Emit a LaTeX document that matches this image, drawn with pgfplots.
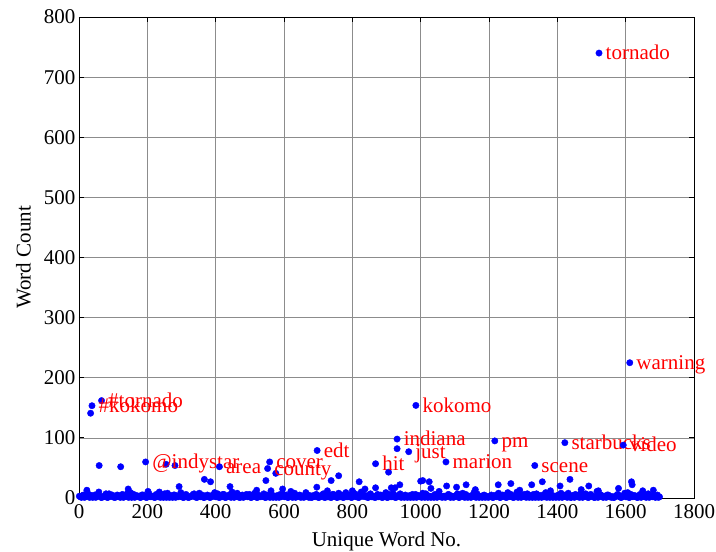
\documentclass[border=0pt]{standalone}
\usepackage{pgfplots}
\pgfplotsset{compat=1.18}
\usepackage{fontspec}
\setmainfont{Liberation Serif}
\definecolor{mblue}{RGB}{0,0,255}
\definecolor{mred}{RGB}{255,0,0}
\newcommand{\ff}{\fontsize{21}{24}\selectfont}
\begin{document}
\begin{tikzpicture}
\useasboundingbox (-79pt,-54pt) rectangle (637pt,498pt);
\begin{axis}[
  at={(0pt,0pt)}, anchor=south west,
  scale only axis, width=615pt, height=481pt,
  xmin=0, xmax=1800, ymin=0, ymax=800,
  xtick={0,200,...,1800}, ytick={0,100,...,800},
  grid=major, major grid style={black!45, line width=0.7pt},
  tick align=inside, major tick length=5pt, tick pos=both,
  axis line style={black, line width=0.9pt},
  every tick/.style={black, line width=0.8pt},
  /pgf/number format/assume math mode=true,
  /pgf/number format/set thousands separator={},
  tick label style={font=\ff},
  xticklabel style={yshift=-3pt},
  label style={font=\ff},
  xlabel={Unique Word No.}, ylabel={Word Count},
  xlabel style={at={(axis description cs:0.5,-0.1012)}, anchor=base, inner sep=0pt},
  ylabel style={at={(axis description cs:-0.078,0.5)}, anchor=south, inner sep=0pt},
  clip=false,
]
\addplot[only marks, mark=*, mark size=3.2pt, color=mblue] coordinates {
(1,3)(7,1)(13,5)(19,2)(25,8)(31,1)(37,4)(43,2)(49,1)(55,6)(61,3)(67,1)(73,2)(79,7)(85,1)(91,3)(97,5)(103,1)(109,2)(115,4)
(121,1)(127,6)(133,2)(139,3)(145,1)(151,9)(157,2)(163,1)(169,4)(175,3)(181,1)(187,5)(193,2)(199,1)(205,7)(211,2)(217,3)(223,1)(229,4)(235,6)
(241,2)(247,1)(253,3)(259,8)(265,1)(271,2)(277,5)(283,1)(289,3)(295,4)(301,2)(307,1)(313,6)(319,1)(325,2)(331,3)(337,7)(343,1)(349,4)(355,2)
(361,5)(367,1)(373,2)(379,3)(385,1)(391,4)(397,9)(403,2)(409,1)(415,3)(421,6)(427,1)(433,2)(439,5)(445,1)(451,3)(457,2)(463,8)(469,1)(475,4)
(481,1)(487,3)(493,2)(499,6)(505,1)(511,5)(517,2)(523,1)(529,4)(535,3)(541,7)(547,1)(553,2)(559,1)(565,5)(571,3)(577,1)(583,2)(589,6)(595,4)
(601,2)(607,5)(613,1)(619,3)(625,1)(631,8)(637,2)(643,4)(649,1)(655,2)(661,3)(667,6)(673,1)(679,1)(685,4)(691,2)(697,5)(703,1)(709,3)(715,7)
(721,1)(727,2)(733,4)(739,1)(745,6)(751,3)(757,1)(763,2)(769,5)(775,1)(781,9)(787,2)(793,3)(799,1)(805,4)(811,2)(817,1)(823,6)(829,3)(835,5)
(841,3)(847,1)(853,7)(859,2)(865,1)(871,4)(877,2)(883,5)(889,1)(895,3)(901,1)(907,6)(913,2)(919,8)(925,1)(931,2)(937,4)(943,1)(949,3)(955,5)
(961,1)(967,4)(973,2)(979,1)(985,6)(991,3)(997,2)(1003,1)(1009,5)(1015,7)(1021,1)(1027,2)(1033,3)(1039,1)(1045,4)(1051,6)(1057,2)(1063,1)(1069,3)(1075,2)
(1081,6)(1087,1)(1093,3)(1099,2)(1105,5)(1111,1)(1117,4)(1123,8)(1129,1)(1135,2)(1141,3)(1147,1)(1153,5)(1159,2)(1165,7)(1171,1)(1177,3)(1183,4)(1189,1)(1195,2)
(1201,2)(1207,5)(1213,1)(1219,3)(1225,6)(1231,1)(1237,2)(1243,4)(1249,1)(1255,9)(1261,3)(1267,2)(1273,1)(1279,5)(1285,1)(1291,4)(1297,2)(1303,6)(1309,1)(1315,3)
(1321,4)(1327,1)(1333,2)(1339,7)(1345,1)(1351,3)(1357,5)(1363,2)(1369,1)(1375,6)(1381,2)(1387,1)(1393,3)(1399,4)(1405,1)(1411,8)(1417,2)(1423,5)(1429,1)(1435,3)
(1441,1)(1447,3)(1453,6)(1459,2)(1465,1)(1471,4)(1477,2)(1483,7)(1489,1)(1495,5)(1501,3)(1507,1)(1513,2)(1519,1)(1525,6)(1531,4)(1537,2)(1543,1)(1549,5)(1555,3)
(1561,2)(1567,1)(1573,4)(1579,5)(1585,1)(1591,3)(1597,8)(1603,2)(1609,1)(1615,6)(1621,2)(1627,4)(1633,1)(1639,3)(1645,1)(1651,7)(1657,2)(1663,5)(1669,1)(1675,4)
(1681,3)(1687,1)(1693,5)(1699,2)
(4,2)(10,4)(16,1)(22,3)(28,6)(34,2)(40,1)(46,5)(52,3)(58,10)(64,1)(70,2)(76,4)(82,1)(88,7)(94,3)(100,2)(106,1)(112,5)(118,2)
(124,4)(130,1)(136,3)(142,8)(148,2)(154,1)(160,6)(166,2)(172,3)(178,1)(184,5)(190,4)(196,1)(202,11)(208,2)(214,3)(220,1)(226,6)(232,2)(238,1)
(244,3)(250,7)(256,1)(262,2)(268,4)(274,1)(280,5)(286,3)(292,2)(298,9)(304,1)(310,4)(316,2)(322,1)(328,3)(334,6)(340,2)(346,1)(352,8)(358,3)
(364,1)(370,2)(376,5)(382,1)(388,4)(394,3)(400,2)(406,7)(412,1)(418,2)(424,6)(430,1)(436,3)(442,2)(448,10)(454,1)(460,4)(466,2)(472,1)(478,5)
(484,2)(490,6)(496,3)(502,1)(508,2)(514,8)(520,1)(526,4)(532,2)(538,3)(544,1)(550,5)(556,2)(562,12)(568,1)(574,3)(580,4)(586,1)(592,2)(598,6)
(604,3)(610,1)(616,4)(622,2)(628,7)(634,1)(640,3)(646,5)(652,2)(658,1)(664,9)(670,2)(676,4)(682,1)(688,3)(694,6)(700,1)(706,2)(712,5)(718,1)
(724,4)(730,2)(736,1)(742,6)(748,3)(754,1)(760,8)(766,2)(772,1)(778,4)(784,2)(790,5)(796,1)(802,3)(808,7)(814,2)(820,1)(826,10)(832,3)(838,2)
(844,1)(850,5)(856,2)(862,3)(868,1)(874,6)(880,4)(886,1)(892,2)(898,9)(904,1)(910,3)(916,2)(922,5)(928,1)(934,4)(940,7)(946,2)(952,1)(958,3)
(964,2)(970,1)(976,6)(982,3)(988,1)(994,4)(1000,2)(1006,8)(1012,1)(1018,5)(1024,3)(1030,1)(1036,2)(1042,6)(1048,1)(1054,11)(1060,2)(1066,3)(1072,1)(1078,4)
(1084,5)(1090,2)(1096,1)(1102,3)(1108,7)(1114,1)(1120,4)(1126,2)(1132,6)(1138,1)(1144,3)(1150,2)(1156,9)(1162,1)(1168,4)(1174,2)(1180,1)(1186,5)(1192,3)(1198,1)
(1204,3)(1210,1)(1216,4)(1222,2)(1228,8)(1234,1)(1240,5)(1246,3)(1252,1)(1258,2)(1264,6)(1270,1)(1276,3)(1282,10)(1288,2)(1294,1)(1300,4)(1306,2)(1312,7)(1318,1)
(1324,2)(1330,6)(1336,1)(1342,3)(1348,4)(1354,1)(1360,2)(1366,9)(1372,3)(1378,1)(1384,5)(1390,2)(1396,1)(1402,4)(1408,6)(1414,1)(1420,3)(1426,2)(1432,8)(1438,1)
(1444,4)(1450,1)(1456,3)(1462,2)(1468,7)(1474,1)(1480,5)(1486,2)(1492,1)(1498,6)(1504,3)(1510,1)(1516,11)(1522,2)(1528,4)(1534,1)(1540,3)(1546,5)(1552,2)(1558,1)
(1564,1)(1570,3)(1576,6)(1582,2)(1588,1)(1594,4)(1600,2)(1606,9)(1612,1)(1618,5)(1624,3)(1630,2)(1636,1)(1642,6)(1648,2)(1654,4)(1660,1)(1666,7)(1672,3)(1678,2)
(1684,2)(1690,4)(1696,1)
(23,13)(34,141)(59,54)(122,52)(144,15)(235,10)(255,56)(281,54)(293,19)(367,31)(385,27)(442,19)(520,13)(547,29)(576,41)(596,15)(620,11)(696,18)(727,12)(738,29)(760,37)(800,12)(820,27)(837,15)(868,17)(906,43)(914,17)(925,17)(931,82)(939,22)(1000,28)(1006,29)(1025,27)(1030,16)(1076,20)(1105,18)(1133,22)(1160,14)(1227,22)(1264,24)(1290,13)(1325,22)(1356,27)(1380,12)(1408,20)(1437,31)(1470,14)(1492,20)(1520,12)(1579,16)(1617,27)(1619,22)(1650,12)(1681,13)
};
\addplot[only marks, mark=*, mark size=3.2pt, color=mblue,
  point meta=explicit symbolic,
  nodes near coords,
  nodes near coords align={horizontal},
  every node near coord/.append style={anchor=west, inner sep=0pt, xshift=6.5pt, text height=15.4pt, text depth=2pt, text=mred, font=\ff}]
coordinates {
(1522,740) [tornado]
(1612,225) [warning]
(66,162) [\#tornado]
(38,153.5) [\#kokomo]
(195,60) [@indystar]
(411,52) [area]
(558,60) [cover]
(552,49) [county]
(697,79) [edt]
(868,57) [hit]
(931,98) [indiana]
(965,77) [just]
(986,154) [kokomo]
(1074,60) [marion]
(1217,95) [pm]
(1334,54) [scene]
(1422,92) [starbucks]
(1593,88) [video]
};
\end{axis}
\end{tikzpicture}
\end{document}
